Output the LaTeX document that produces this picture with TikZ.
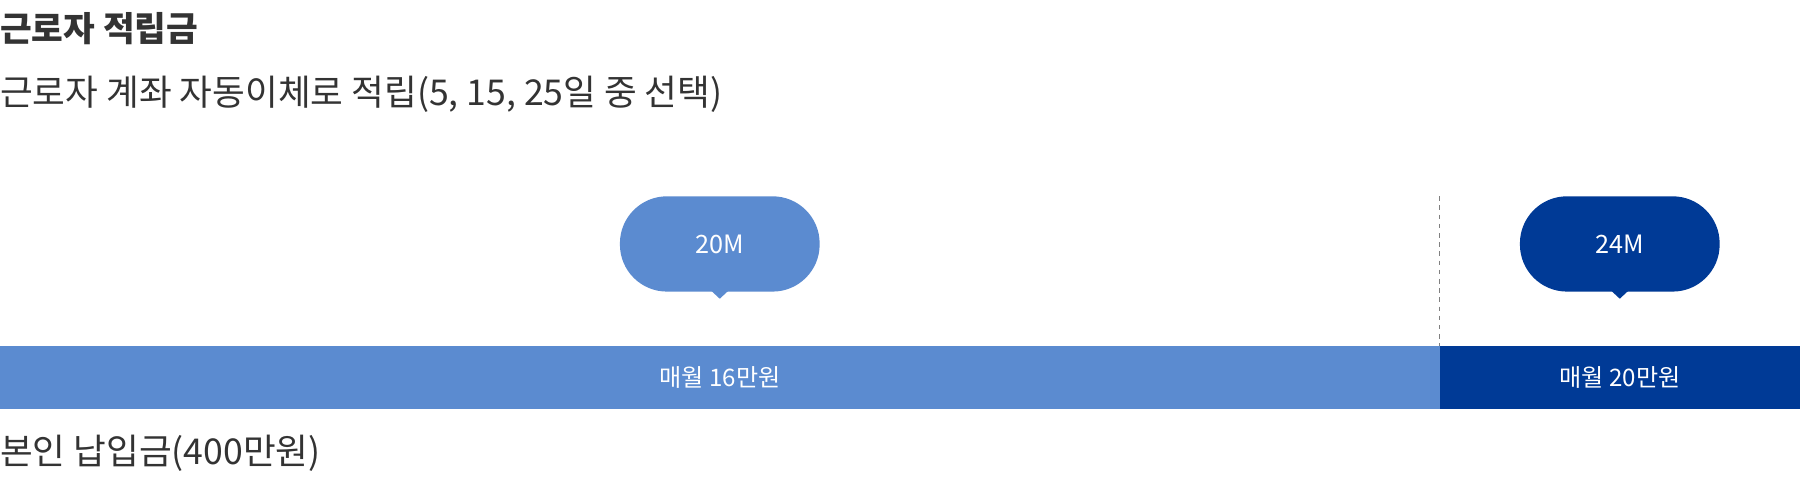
\documentclass[tikz,border=0pt]{standalone}
\usepackage{fontspec}
\setmainfont{Noto Sans CJK KR}
\definecolor{lb}{HTML}{5B8BD0}
\definecolor{db}{HTML}{003A96}
\definecolor{tx}{HTML}{333333}
\begin{document}
\begin{tikzpicture}[x=1pt,y=-1pt,
  bubble/.style={rounded corners=41pt,minimum width=174pt,minimum height=83pt,inner sep=0pt,text=white,font=\fontsize{22}{26}\selectfont},
  bartext/.style={text=white,font=\fontsize{21}{25}\selectfont},
  lbl/.style={anchor=west,text=tx,inner sep=0pt}]
\useasboundingbox (0,0) rectangle (1568,416);
\fill[white] (0,0) rectangle (1568,416);
\node[lbl,font=\fontsize{30}{34}\selectfont\bfseries] (t) at (0,25) {근로자 적립금};
\node[lbl,font=\fontsize{31}{36}\selectfont] (s) at (0,82) {근로자 계좌 자동이체로 적립(5, 15, 25일 중 선택)};
\draw[gray,dash pattern=on 4pt off 4pt] (1254,171) -- (1254,301);
\node[fill=lb,minimum width=1254pt,minimum height=55pt,inner sep=0pt,anchor=north west] (b1) at (0,301) {};
\node[fill=db,minimum width=314pt,minimum height=55pt,inner sep=0pt,anchor=north west] (b2) at (1254,301) {};
\node[bartext] at (b1.center) {매월 16만원};
\node[bartext] at (b2.center) {매월 20만원};
\node[bubble,fill=lb] (m1) at (627,212.5) {20M};
\node[bubble,fill=db] (m2) at (1411,212.5) {24M};
\fill[lb] ([xshift=-7pt,yshift=0.5pt]m1.south) -- ([yshift=-6pt]m1.south) -- ([xshift=7pt,yshift=0.5pt]m1.south) -- cycle;
\fill[db] ([xshift=-7pt,yshift=0.5pt]m2.south) -- ([yshift=-6pt]m2.south) -- ([xshift=7pt,yshift=0.5pt]m2.south) -- cycle;
\node[lbl,font=\fontsize{31}{36}\selectfont] (n) at (0,395) {본인 납입금(400만원)};
\end{tikzpicture}
\end{document}
